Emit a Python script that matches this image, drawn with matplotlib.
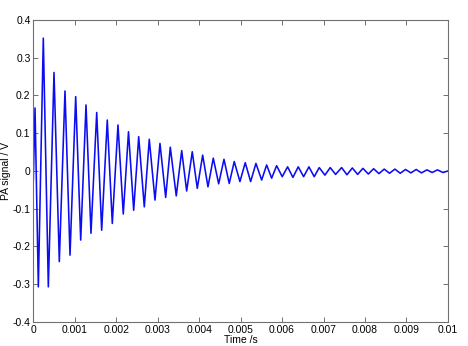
import numpy as np
import matplotlib.pyplot as plt

# extrema of the PA signal (time in s, signal in V)
t = [0.0, 0.000041, 0.000121, 0.000241, 0.000362, 0.000499, 0.000627, 0.000764,
     0.000885, 0.001022, 0.001143, 0.001271, 0.001391, 0.001529, 0.001649,
     0.001784, 0.001905, 0.002042, 0.002170, 0.002296, 0.002421, 0.002542,
     0.002677, 0.002797, 0.002935, 0.003055, 0.003193, 0.003304, 0.003448,
     0.003579, 0.003699, 0.003834, 0.003955, 0.004085, 0.004213, 0.004341,
     0.004471, 0.004599, 0.004726, 0.004847, 0.004984, 0.005112, 0.005242,
     0.005370, 0.005508, 0.005628, 0.005749, 0.005869, 0.006004, 0.006134,
     0.006262, 0.006390, 0.006520, 0.006648, 0.006776, 0.006897, 0.007034,
     0.007162, 0.007292, 0.007437, 0.007565, 0.007695, 0.007823, 0.007951,
     0.008081, 0.008209, 0.008337, 0.008464, 0.008592, 0.008722, 0.008850,
     0.008978, 0.009108, 0.009236, 0.009363, 0.009494, 0.009621, 0.009749,
     0.009880, 0.01]
v = [-0.025, 0.167, -0.307, 0.352, -0.307, 0.261, -0.240, 0.212,
     -0.223, 0.197, -0.183, 0.175, -0.165, 0.155, -0.157,
     0.135, -0.139, 0.122, -0.114, 0.104, -0.104, 0.091,
     -0.095, 0.084, -0.077, 0.073, -0.070, 0.063, -0.066,
     0.054, -0.053, 0.051, -0.046, 0.042, -0.042, 0.034,
     -0.034, 0.031, -0.033, 0.025, -0.028, 0.022, -0.028,
     0.020, -0.024, 0.016, -0.019, 0.014, -0.015, 0.011,
     -0.017, 0.011, -0.015, 0.011, -0.015, 0.009, -0.011,
     0.009, -0.009, 0.009, -0.010, 0.008, -0.009, 0.007,
     -0.008, 0.006, -0.007, 0.005, -0.006, 0.005, -0.006,
     0.004, -0.005, 0.004, -0.005, 0.003, -0.004, 0.003,
     -0.004, 0.0]

xticks = np.arange(0, 0.0101, 0.001)
xlabels = ['0', '0.001', '0.002', '0.003', '0.004', '0.005',
           '0.006', '0.007', '0.008', '0.009', '0.01']
yticks = np.arange(-0.4, 0.41, 0.1)
ylabels = ['-0.4', '-0.3', '-0.2', '-0.1', '0', '0.1', '0.2', '0.3', '0.4']

plt.rcParams['font.family'] = ['Liberation Sans', 'DejaVu Sans']

fig = plt.figure(figsize=(4.68, 3.46), dpi=100)
ax = fig.add_axes([0.0712, 0.0694, 0.8858, 0.8728])
ax.plot(t, v, color='#0c0cf2', linewidth=1.15, solid_joinstyle='round')

ax.set_xlim(0, 0.01)
ax.set_ylim(-0.4, 0.4)
ax.set_xticks(xticks)
ax.set_xticklabels(xlabels)
ax.set_yticks(yticks)
ax.set_yticklabels(ylabels)
ax.tick_params(direction='in', length=3.5, width=0.7, color='#707070',
               top=True, right=True, labelsize=7.5, pad=2)
for s in ax.spines.values():
    s.set_color('#707070')
    s.set_linewidth(0.8)

ax.set_xlabel('Time /s', fontsize=7.5, labelpad=0)
ax.set_ylabel('PA signal / V', fontsize=7.5, labelpad=1)

fig.savefig('out.png', dpi=100)
